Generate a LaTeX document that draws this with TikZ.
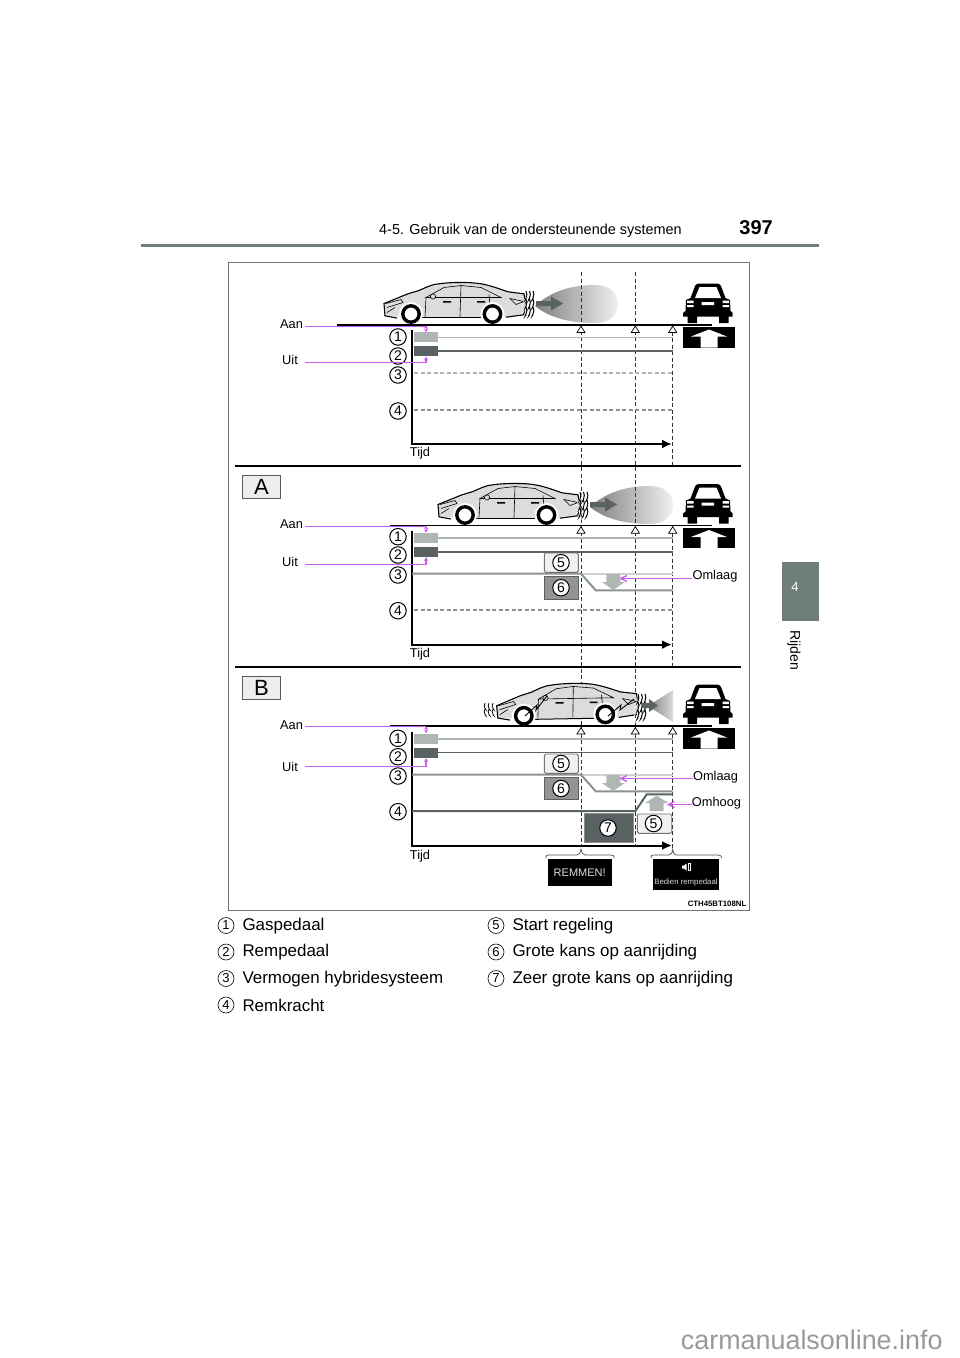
\documentclass[tikz,border=0pt]{standalone}
\usepackage{fontspec}
\setmainfont{Liberation Sans}
\usetikzlibrary{calc}
\usetikzlibrary{arrows.meta}
\usetikzlibrary{shapes.geometric}

\definecolor{tabgrey}{HTML}{6F7D7B}
\definecolor{carbody}{HTML}{DADDDC}
\definecolor{linelight}{HTML}{B0B6B4}
\definecolor{linemid}{HTML}{8A9391}
\definecolor{linedark}{HTML}{5A6163}
\definecolor{pinkline}{HTML}{CC5CEE}

\tikzset{
numcircle/.style={circle,draw=black,fill=white,line width=1pt,minimum size=16.5pt,inner sep=0pt,font=\fontsize{14}{14}\selectfont},
legcircle/.style={circle,draw=black,line width=0.6pt,minimum size=16pt,inner sep=0pt,font=\fontsize{13}{13}\selectfont},
legtext/.style={anchor=west,inner sep=0pt,font=\fontsize{16.95}{17}\selectfont},
smalltext/.style={inner sep=0pt,font=\fontsize{12.8}{13}\selectfont},
pinkarrow/.style={draw=pinkline,line width=1.4pt},
startbox/.style={draw=black!55,fill=black!6,rounded corners=1.5pt,line width=0.9pt},
riskbox/.style={draw=linedark,fill=black!42,line width=0.9pt},
timeline/.style={dash pattern=on 4pt off 2.5pt,line width=1pt,black!80},
wavy/.style={line width=1pt}
}

% car seen from the side, origin on the road below the front wheel
\newcommand{\sidecar}[1]{
\begin{scope}[#1]
\fill[carbody] (-26,-8.7) -- (-27,-21) -- (-3,-30.7) -- (8,-34) .. controls (15,-37) and (20,-40) .. (28,-40.7) .. controls (40,-42.5) and (60,-42.5) .. (70,-40.7) .. controls (80,-39) and (90,-35) .. (97,-32.7) -- (113,-30.7) -- (114.7,-19.7) -- (112.7,-9.7) -- (95,-7.3) -- (6.7,-7.3) -- cycle;
\draw[line width=1.1pt] (-14,-6.5) -- (-26,-8.7) -- (-27,-21) -- (-3,-30.7) -- (8,-34) .. controls (15,-37) and (20,-40) .. (28,-40.7) .. controls (40,-42.5) and (60,-42.5) .. (70,-40.7) .. controls (80,-39) and (90,-35) .. (97,-32.7) -- (113,-30.7) -- (114.7,-19.7) -- (112.7,-9.7) -- (95,-7.3);
\draw[line width=1pt] (11,-6.8) -- (70,-6.8);
\draw[line width=0.6pt] (-25,-21) -- (-10,-25) -- (-8,-22) -- (-24,-17) (15,-27) -- (14,-8) (15,-27) -- (33,-37) -- (50,-39) -- (70,-37) -- (90,-27) -- cycle (50,-39) -- (49,-8) (78,-30) -- (80,-8) (99,-26) -- (113,-23) -- (105,-20) -- cycle (-24,-12) -- (-16,-17);
\fill[black] (32,-22) rectangle ++(8,-1.5) (66,-22) rectangle ++(8,-1.5);
\draw[line width=0.6pt,fill=carbody] (22,-28) circle (2.6);
\foreach \wx in {0,81.5}{
\fill[white] (\wx,-10.5) circle (12);
\draw[line width=3.4pt,fill=white] (\wx,-10.5) circle (8.2);
}
\end{scope}
}

% oncoming car with the arrow box under it
\newcommand{\frontcar}[1]{
\begin{scope}[yshift=#1]
\fill[black] (690.5,298) -- (695,286) .. controls (696,284) and (697,283.5) .. (700,283.5) -- (716,283.5) .. controls (719,283.5) and (720,284) .. (721,286) -- (725.5,298) -- (730,300) -- (730.5,311) -- (732.7,313) -- (732.7,316.7) -- (728.5,316.7) -- (728.5,323) -- (719,323) -- (719,316.7) -- (697,316.7) -- (697,323) -- (687.5,323) -- (687.5,316.7) -- (683,316.7) -- (683,313) -- (685.5,311) -- (686,300) -- cycle;
\fill[white] (695,298) -- (699.5,287) -- (716.5,287) -- (721,298) -- cycle;
\fill[white] (687,300.5) rectangle (693.5,303) (687,305) rectangle (693.5,307) (722.5,300.5) rectangle (729,303) (722.5,305) rectangle (729,307) (701.5,302) rectangle (714,305);
\fill[black] (683.3,327) rectangle (735,347.7);
\fill[white] (709,329.5) -- (727,336.5) -- (717.5,336.5) -- (717.5,347.7) -- (700.5,347.7) -- (700.5,336.5) -- (691,336.5) -- cycle;
\end{scope}
}

% the chart lines that all three parts share
\newcommand{\pedalrows}[2]{
\begin{scope}[yshift=#1]
\fill[linelight] (414,332) rectangle (438,342);
\draw[linelight,line width=1.9pt] (438,337.5) -- (672.7,337.5);
\fill[linedark] (414,346) rectangle (438,356);
\draw[linedark,line width=1.9pt] (438,351) -- (672.7,351);
\draw[line width=2pt] (412,330) -- (412,444);
\draw[-{Latex[length=10pt,width=9pt]},line width=2pt] (411,444) -- (672,444);
\foreach \tx/\tn in {581/a,635.3/b,672.7/c}
\node[isosceles triangle,isosceles triangle apex angle=64,shape border rotate=90,draw=black,fill=white,inner sep=0pt,minimum height=6.5pt,minimum width=8pt,line width=0.7pt,anchor=apex] (tri#2\tn) at (\tx,325.4) {};
\end{scope}
}

\begin{document}
\begin{tikzpicture}[x=1pt,y=-1pt]
\useasboundingbox (0,0) rectangle (960,1358);

% page header
\node[anchor=west,inner sep=0pt,font=\fontsize{14.45}{15}\selectfont] (headtext) at (379,230.5) {4-5. Gebruik van de ondersteunende systemen};
\node[anchor=east,inner sep=0pt,font=\fontsize{20}{20}\bfseries\selectfont] (pagenum) at (773,227.5) {397};
\draw[tabgrey,line width=2.5pt] (141,245.5) -- (818.5,245.5);
\fill[tabgrey] (782,562) rectangle (818.5,621);
\node[white,font=\fontsize{13}{13}\selectfont,inner sep=0pt] (tabnum) at (795,587) {4};
\node[rotate=-90,font=\fontsize{14}{14}\selectfont,inner sep=0pt] (tabtext) at (794,650.5) {Rijden};

% frame and part rules
\draw[black!55,line width=0.8pt] (228.5,262) rectangle (749.5,910);
\draw[line width=2pt] (235,465.7) -- (741,465.7);
\draw[line width=2pt] (235,666.5) -- (741,666.5);
\foreach \py/\pl in {475/A,676/B}
\node[draw=black!65,fill=black!7,minimum width=38.5pt,minimum height=23pt,inner sep=0pt,anchor=north west,line width=0.8pt,font=\fontsize{22}{22}\selectfont] (part\pl) at (241.7,\py) {\pl};

% clouds behind the cars
\shade[left color=black!50,right color=black!6] (535,306) .. controls (550,292) and (570,285) .. (595,285) .. controls (610,285) and (618,293) .. (618,304) .. controls (618,315) and (610,323) .. (595,323) .. controls (570,323) and (550,318) .. (535,306) -- cycle;
\shade[left color=black!50,right color=black!6] (590,507) .. controls (605,493) and (625,486) .. (650,486) .. controls (665,486) and (673,494) .. (673,505) .. controls (673,516) and (665,524) .. (650,524) .. controls (625,524) and (605,519) .. (590,507) -- cycle;
\shade[left color=black!50,right color=black!14] (648,706) -- (673,690) -- (673,722) -- cycle;

% long dashed time marks
\draw[timeline] (581.5,272) -- (581.5,845);
\draw[timeline] (635.5,272) -- (635.5,845);
\draw[timeline] (672.5,325) -- (672.5,465);
\draw[timeline] (672.5,526) -- (672.5,666);
\draw[timeline] (672.5,727) -- (672.5,848);

% cars
\sidecar{shift={(411,324.5)}}
\sidecar{shift={(465,525.5)}}
\sidecar{shift={(524,726.3)},rotate=1}

% waves and arrows at the back of the cars
\foreach \cx/\cy in {526/0,580/201,638/403}
\foreach \wn in {0,3.5,7}
\draw[wavy,white,line width=2pt] ($(\cx,291)+(\wn,\cy)$) .. controls +(3,4) and +(-3,4) .. +(0,8) .. controls +(3,4) and +(-3,4) .. +(0,16) .. controls +(3,4) and +(-3,4) .. +(0,24);
\foreach \cx/\cy in {526/0,580/201,638/403}
\foreach \wn in {0,3.5,7}
\draw[wavy] ($(\cx,291)+(\wn,\cy)$) .. controls +(3,4) and +(-3,4) .. +(0,8) .. controls +(3,4) and +(-3,4) .. +(0,16) .. controls +(3,4) and +(-3,4) .. +(0,24);
\foreach \wn in {0,4,8}
\draw[line width=0.8pt] ($(485,703)+(\wn,0)$) .. controls +(-3,3) and +(3,3) .. +(0,6) .. controls +(-3,3) and +(3,3) .. +(0,12);
\foreach \cx/\cy in {536/0,590/201}
\fill[linedark] ($(\cx,301)+(0,\cy)$) -- ++(15,0) -- ++(0,-4.5) -- ++(12,7) -- ++(-12,7) -- ++(0,-4.5) -- ++(-15,0) -- cycle;
\fill[linedark] (641,703) -- ++(8,0) -- ++(0,-4) -- ++(9,6.5) -- ++(-9,6.5) -- ++(0,-4) -- ++(-8,0) -- cycle;
% bolts from the wheels in the last car
\draw[line width=0.9pt] (525,716) -- (537,705) -- (536,710) -- (547,696);
\draw[line width=0.9pt] (608,716) -- (621,705) -- (620,710) -- (634,699);

% oncoming cars
\frontcar{0pt}
\frontcar{-200.5pt}
\frontcar{-401pt}

% road lines
\draw[line width=1.6pt] (337,324.7) -- (712,324.7);
\draw[line width=1.6pt] (390,525.3) -- (712,525.3);
\draw[line width=1.6pt] (390,726) -- (712,726);

% chart rows
\pedalrows{0pt}{u}
\pedalrows{-200.6pt}{v}
\pedalrows{-401.5pt}{w}

% first part, no control yet
\draw[linelight,line width=1.7pt,dash pattern=on 4pt off 2.5pt] (414,373.3) -- (672.7,373.3);
\draw[linemid,line width=1.7pt,dash pattern=on 4pt off 2.5pt] (414,409.7) -- (672.7,409.7);

% part A
\draw[black!18,line width=1.3pt] (581,574) -- (672.7,574);
\draw[linemid,line width=2pt] (412,573.7) -- (581,573.7) -- (595.7,590.3) -- (672.7,590.3);
\fill[linelight] (606.3,574) rectangle (620.3,582) (601.8,582) -- (624.8,582) -- (613.3,590) -- cycle;
\draw[linemid,line width=1.7pt,dash pattern=on 4pt off 2.5pt] (414,610.3) -- (672.7,610.3);
\draw[startbox] (544.3,553) rectangle (578.3,572.3);
\draw[riskbox] (544.3,576.3) rectangle (578.3,599);

% part B
\draw[black!18,line width=1.3pt] (581,775) -- (672.7,775);
\draw[linemid,line width=2pt] (412,774.7) -- (581,774.7) -- (595.7,791.3) -- (672.7,791.3);
\fill[linelight] (606.3,775) rectangle (620.3,783) (601.8,783) -- (624.8,783) -- (613.3,791) -- cycle;
\draw[linedark,line width=2pt] (412,811) -- (635.5,811) -- (646.7,794.3) -- (672.7,794.3);
\fill[linelight] (649.7,811) rectangle (663.7,803) (645.2,803) -- (668.2,803) -- (656.7,795.5) -- cycle;
\draw[startbox] (544.3,754) rectangle (578.3,773.3);
\draw[riskbox] (544.3,777.3) rectangle (578.3,799.7);
\draw[draw=black!45,fill=linedark,line width=0.9pt] (584.3,813.3) rectangle (633.3,842.7);
\draw[startbox] (637.3,814) rectangle (671.7,833.3);

% numbered circles in the charts
\foreach \cy/\cn in {337/1,356/2,375/3,411/4,536.7/1,555/2,575/3,610.7/4,738.3/1,756.7/2,776/3,811.7/4}
\node[numcircle] at (398,\cy) {\cn};
\foreach \cx/\cy/\cn in {561/562.7/5,561/587.7/6,561/763.5/5,561/788.5/6,608/828/7,653.5/823.5/5}
\node[numcircle] at (\cx,\cy) {\cn};

% labels
\foreach \ay/\uy/\ty/\pn in {324/360/453.5/u,524.5/562/654/v,725/767/856/w}{
\node[smalltext] (aan\pn) at (291.5,\ay) {Aan};
\node[smalltext] (uit\pn) at (290,\uy) {Uit};
\node[smalltext] (tijd\pn) at (420,\ty) {Tijd};
}
\coordinate (aanendu) at (426,326.5);
\coordinate (uitendu) at (426,356.5);
\coordinate (aanendv) at (426,526.5);
\coordinate (uitendv) at (426,557);
\coordinate (aanendw) at (426,726.5);
\coordinate (uitendw) at (426,758);
\draw[pinkarrow] ([xshift=2pt,yshift=-2.5pt]aanu.east) -- (aanendu);
\draw[pinkarrow] ([xshift=2pt,yshift=-2pt]aanv.east) -- (aanendv);
\draw[pinkarrow] ([xshift=2pt,yshift=-1.5pt]aanw.east) -- (aanendw);
\draw[pinkarrow,-{Stealth[length=4pt,width=4pt]}] ([xshift=7pt,yshift=-2.5pt]uitu.east) -| (uitendu);
\draw[pinkarrow,-{Stealth[length=4pt,width=4pt]}] ([xshift=7pt,yshift=-2.5pt]uitv.east) -| (uitendv);
\draw[pinkarrow,-{Stealth[length=4pt,width=4pt]}] ([xshift=7pt,yshift=0.5pt]uitw.east) -| (uitendw);
\foreach \ay in {325.5,526,726.5}
\draw[pinkarrow,line width=1pt,{Stealth[length=3pt,width=4pt]}-{Stealth[length=3pt,width=4pt]}] (426,\ay) -- ++(0,6.5);

\node[smalltext] (omlaaga) at (715,576) {Omlaag};
\node[smalltext] (omlaagb) at (715.5,777) {Omlaag};
\node[smalltext] (omhoog) at (716.5,803) {Omhoog};
\coordinate (omlaagaend) at (619.3,578.5);
\coordinate (omlaagbend) at (619.3,778.5);
\coordinate (omhoogend) at (667,804.5);
\draw[pinkarrow,-{Straight Barb[length=6pt,width=6pt]}] ([yshift=-2.5pt]omlaaga.west) -- (omlaagaend);
\draw[pinkarrow,-{Straight Barb[length=6pt,width=6pt]}] ([yshift=-1.5pt]omlaagb.west) -- (omlaagbend);
\draw[pinkarrow,-{Straight Barb[length=6pt,width=6pt]}] ([yshift=-1.5pt]omhoog.west) -- (omhoogend);

% warning screens
\draw[line width=0.7pt,black!70] (545.7,858) .. controls (545.7,855) and (547,855) .. (549,855) -- (577,855) .. controls (580,855) and (580,852) .. (581,849.3) .. controls (582,852) and (582,855) .. (585,855) -- (611,855) .. controls (613.5,855) and (614.3,856) .. (614.3,858);
\draw[line width=0.7pt,black!70] (650.7,858) .. controls (650.7,855) and (652,855) .. (654,855) -- (669,855) .. controls (672,855) and (672,852) .. (672.7,849.3) .. controls (673.4,852) and (673.4,855) .. (676,855) -- (718,855) .. controls (720.5,855) and (721.7,856) .. (721.7,858);
\node[fill=black,text=white!88!black,minimum width=64.4pt,minimum height=27pt,inner sep=0pt,anchor=north west,font=\fontsize{11}{11}\selectfont] (remmen) at (547.3,859) {REMMEN!};
\node[fill=black,minimum width=66.3pt,minimum height=31pt,inner sep=0pt,anchor=north west] (bedien) at (652.7,859) {};
\node[text=white!85!black,inner sep=0pt,font=\fontsize{7.8}{8}\selectfont] (bedientext) at (686,882.5) {Bedien rempedaal};
\fill[white] (682,865.5) rectangle (684,868.5) (684,865.5) -- (686.5,863.5) -- (686.5,870.5) -- (684,868.5) -- cycle;
\draw[white,line width=0.6pt] (688,863.5) rectangle (690,870.5);
\node[anchor=east,inner sep=0pt,font=\fontsize{7.8}{8}\bfseries\selectfont] (drawcode) at (746.5,904) {CTH45BT108NL};

% legend
\foreach \lx/\ly/\ln/\lt in {226/925.5/1/Gaspedaal,226/952/2/Rempedaal,226/978.5/3/Vermogen hybridesysteem,226/1005/4/Remkracht,496/925.5/5/Start regeling,496/952/6/Grote kans op aanrijding,496/978.5/7/Zeer grote kans op aanrijding}{
\node[legcircle] (leg\ln) at (\lx,\ly) {\ln};
\node[legtext] (legtext\ln) at ($(\lx,\ly)+(16.3,0.5)$) {\lt};
}

% web address at the foot of the page
\node[anchor=base west,inner sep=0pt,text=black!40,font=\fontsize{26.9}{27}\selectfont] (webtext) at (680.7,1349.7) {carmanualsonline.info};
\end{tikzpicture}
\end{document}
